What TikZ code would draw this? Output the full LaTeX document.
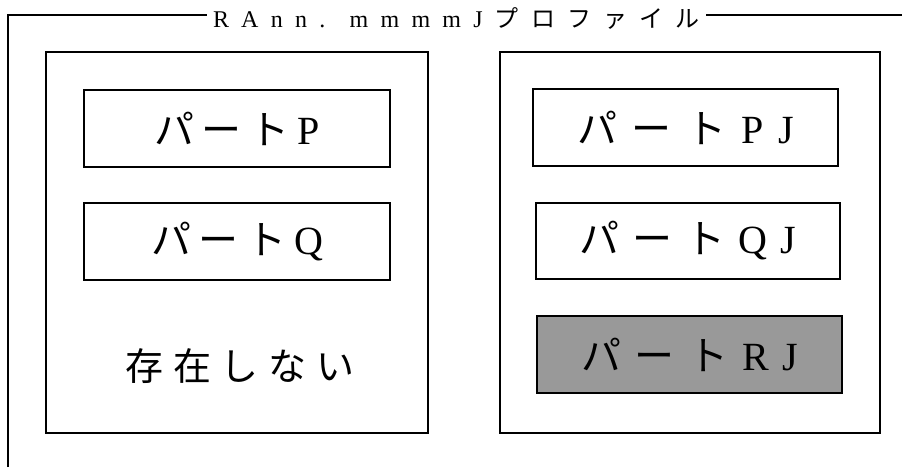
\documentclass[tikz,border=0pt]{standalone}
\usepackage{fontspec}
\setmainfont{Liberation Serif}
\newfontfamily\jp{Noto Sans CJK JP}
\newcommand\spreadbox[2]{\makebox[#1][s]{#2}}
\begin{document}
\begin{tikzpicture}[x=1pt,y=-1pt,
  frameline/.style={line width=2pt},
  container/.style={draw,line width=1.5pt,inner sep=0pt},
  part/.style={draw,line width=1.4pt,inner sep=0pt,minimum height=77pt,
    font=\fontsize{40}{44}\selectfont},
  shaded/.style={fill=black!40},
  titlelbl/.style={fill=white,inner xsep=6pt,inner ysep=2pt,font=\fontsize{24}{26}\selectfont},
  bigtext/.style={inner sep=0pt,font=\fontsize{38}{42}\selectfont}]
\useasboundingbox (0,0) rectangle (902,467);
% outer open frame
\coordinate (fbot) at (8,467);
\coordinate (ftl) at (8,14.5);
\coordinate (ftr) at (902,14.5);
\draw[frameline] (fbot) -- (ftl) -- (ftr);
\node[titlelbl] (title) at (456.5,18)
  {\spreadbox{487pt}{R\hfil A\hfil n\hfil n\hfil .\hfil\hfil m\hfil m\hfil m\hfil m\hfil J\hfil{\jp プ\hfil ロ\hfil フ\hfil ァ\hfil イ\hfil ル}}};
% containers
\node[container,minimum width=382pt,minimum height=381pt] (left) at (237,242.5) {};
\node[container,minimum width=380pt,minimum height=381pt] (right) at (690,242.5) {};
% left parts
\node[part,minimum width=306pt] (p) at (237,128.5)
  {\spreadbox{166pt}{{\jp パ\hfil ー\hfil ト}\hfil P}};
\node[part,minimum width=306pt] (q) at (237,241.5)
  {\spreadbox{172pt}{{\jp パ\hfil ー\hfil ト}\hfil Q}};
\node[bigtext] (none) at (240,366)
  {\spreadbox{229pt}{\jp 存\hfil 在\hfil し\hfil な\hfil い}};
% right parts
\node[part,minimum width=305pt] (pj) at (685.5,127.5)
  {\spreadbox{217pt}{{\jp パ\hfil ー\hfil ト}\hfil P\hfil J}};
\node[part,minimum width=304pt,minimum height=76pt] (qj) at (688,241)
  {\spreadbox{217pt}{{\jp パ\hfil ー\hfil ト}\hfil Q\hfil J}};
\node[part,shaded,minimum width=305pt] (rj) at (689.5,354.5)
  {\spreadbox{217pt}{{\jp パ\hfil ー\hfil ト}\hfil R\hfil J}};
\end{tikzpicture}
\end{document}
